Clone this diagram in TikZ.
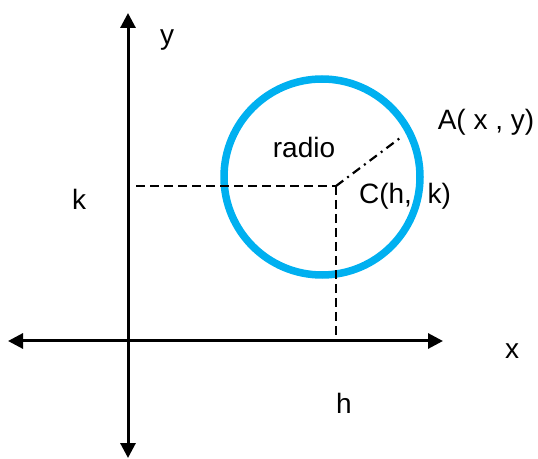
\documentclass[tikz,border=0pt]{standalone}
\usepackage{fontspec}
\setmainfont{Liberation Sans}
\usetikzlibrary{arrows.meta}
\definecolor{circblue}{RGB}{0,176,240}
\tikzset{
  axis/.style={line width=3pt, {Triangle[length=15pt,width=15pt]}-{Triangle[length=15pt,width=15pt]}},
  guide/.style={line width=2.2pt, dash pattern=on 9pt off 5pt},
  radius line/.style={line width=2.2pt, dash pattern=on 9pt off 5pt on 2pt off 5pt},
  lbl/.style={inner sep=0pt, font=\fontsize{28}{32}\selectfont}
}
\begin{document}
\begin{tikzpicture}[x=1pt,y=1pt]
\useasboundingbox (0,0) rectangle (538,458);

% axes
\coordinate (xl) at (8,117);
\coordinate (xr) at (443,117);
\coordinate (yb) at (128,0);
\coordinate (yt) at (128,445);
\draw[axis] (xl) -- (xr);
\draw[axis] (yb) -- (yt);

% circle
\coordinate (o) at (322,281);
\draw[circblue, line width=7.5pt] (o) circle (98);

% centre and point on circle
\coordinate (c) at (336,272);
\coordinate (a) at (400,320);
\coordinate (kk) at (136,272);
\coordinate (hh) at (336,117);
\draw[guide] (kk) -- (c);
\draw[guide] (c) -- (hh);
\draw[radius line] (c) -- (a);

% labels
\node[lbl] (ylab) at (167,418) {y};
\node[lbl] (xlab) at (512,107) {x};
\node[lbl] (klab) at (79,259) {k};
\node[lbl] (hlab) at (344,55) {h};
\node[lbl] (rlab) at (304,311) {radio};
\node[lbl] (alab) at (486,336) {A( x , y)};
\node[lbl] (clab) at (405,262) {C(h,\ \ k)};
\end{tikzpicture}
\end{document}
